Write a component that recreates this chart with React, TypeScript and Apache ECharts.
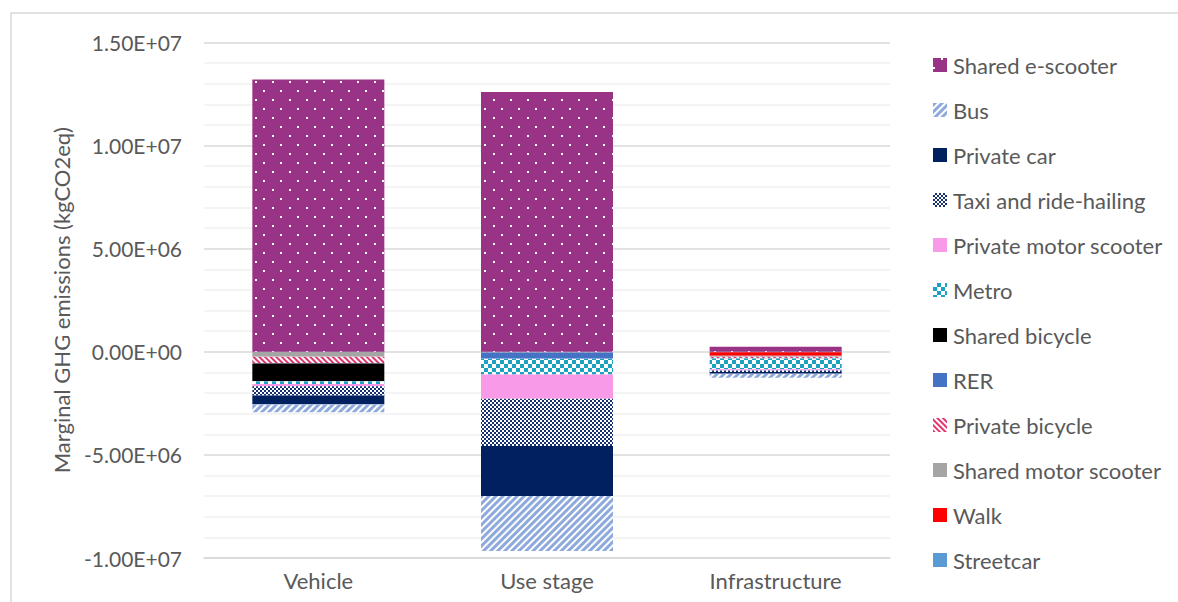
import React, { useEffect, useRef } from "react";
import * as echarts from "echarts";

const categories = ["Vehicle", "Use stage", "Infrastructure"];

// Series in stacking order (first = closest to zero)
const seriesNames = [
  "Streetcar",
  "Walk",
  "Shared motor scooter",
  "Private bicycle",
  "RER",
  "Shared bicycle",
  "Metro",
  "Private motor scooter",
  "Taxi and ride-hailing",
  "Private car",
  "Bus",
  "Shared e-scooter",
];

const streetcar = [-0.01e6, -0.01e6, -0.02e6];
const walk = [0, 0, -0.17e6];
const sharedMotorScooter = [-0.23e6, -0.01e6, -0.05e6];
const privateBicycle = [-0.31e6, -0.02e6, -0.06e6];
const rer = [-0.02e6, -0.3e6, -0.02e6];
const sharedBicycle = [-0.86e6, 0, -0.01e6];
const metro = [-0.13e6, -0.76e6, -0.52e6];
const privateMotorScooter = [-0.11e6, -1.18e6, -0.06e6];
const taxi = [-0.45e6, -2.29e6, -0.07e6];
const privateCar = [-0.44e6, -2.42e6, -0.08e6];
const bus = [-0.37e6, -2.67e6, -0.2e6];
const sharedEScooter = [13.2e6, 12.6e6, 0.24e6];

const seriesData = [
  streetcar,
  walk,
  sharedMotorScooter,
  privateBicycle,
  rer,
  sharedBicycle,
  metro,
  privateMotorScooter,
  taxi,
  privateCar,
  bus,
  sharedEScooter,
];

const yTicks = { min: -1e7, max: 1.5e7, interval: 5e6 };

const styles: Record<string, any> = {
  Streetcar: { color: "#5b9bd5" },
  Walk: { color: "#ff0000" },
  "Shared motor scooter": { color: "#a5a5a5" },
  "Private bicycle": {
    color: "#ffffff",
    decal: {
      color: "#e0356f",
      dashArrayX: [1, 0],
      dashArrayY: [2, 2],
      rotation: Math.PI / 4,
    },
  },
  RER: { color: "#4472c4" },
  "Shared bicycle": { color: "#000000" },
  Metro: {
    color: "#ffffff",
    decal: {
      color: "#1ea0c0",
      dashArrayX: [
        [4, 4],
        [0, 4, 4, 0],
      ],
      dashArrayY: [4, 0],
    },
  },
  "Private motor scooter": { color: "#f99ae9" },
  "Taxi and ride-hailing": {
    color: "#ffffff",
    decal: {
      color: "#14306e",
      dashArrayX: [
        [2, 2],
        [0, 2, 2, 0],
      ],
      dashArrayY: [2, 0],
    },
  },
  "Private car": { color: "#002060" },
  Bus: {
    color: "#ffffff",
    decal: {
      color: "#8eaadc",
      dashArrayX: [1, 0],
      dashArrayY: [3, 2],
      rotation: -Math.PI / 4,
    },
  },
  "Shared e-scooter": {
    color: "#993385",
    decal: {
      color: "#ffffff",
      dashArrayX: [
        [2, 15],
        [0, 8, 2, 7],
      ],
      dashArrayY: [2, 7],
    },
  },
};

function sci(v: number): string {
  if (v === 0) return "0.00E+00";
  const s = v < 0 ? "-" : "";
  const a = Math.abs(v);
  let e = Math.floor(Math.log10(a) + 1e-9);
  let m = a / Math.pow(10, e);
  if (Math.round(m * 100) / 100 >= 10) {
    m /= 10;
    e += 1;
  }
  return s + m.toFixed(2) + "E" + (e < 0 ? "-" : "+") + String(Math.abs(e)).padStart(2, "0");
}

const FONT = "Lato";
const TXT = "#595959";

export default function App() {
  const ref = useRef<HTMLDivElement>(null);
  useEffect(() => {
    if (!ref.current) return;
    const chart = echarts.init(ref.current, null, { renderer: "svg" });
    chart.setOption({
      animation: false,
      backgroundColor: "#ffffff",
      textStyle: { fontFamily: FONT },
      graphic: [
        {
          type: "rect",
          shape: { x: 11, y: 13, width: 1300, height: 700 },
          style: { fill: "none", stroke: "#d9d9d9", lineWidth: 1.5 },
          silent: true,
        },
      ],
      grid: { left: 204, right: 288, top: 42.5, bottom: 44, containLabel: false },
      legend: {
        orient: "vertical",
        left: 933,
        top: 54,
        padding: 0,
        itemWidth: 14,
        itemHeight: 14,
        itemGap: 23,
        icon: "rect",
        data: [...seriesNames].reverse(),
        textStyle: { color: TXT, fontSize: 22, fontFamily: FONT, lineHeight: 22, padding: [0, 0, 0, 1] },
      },
      xAxis: {
        type: "category",
        data: categories,
        axisLine: { show: true, onZero: false, lineStyle: { color: "#d9d9d9", width: 1.5 } },
        axisTick: { show: false },
        axisLabel: { color: TXT, fontSize: 22, fontFamily: FONT, margin: 11 },
      },
      yAxis: {
        type: "value",
        min: yTicks.min,
        max: yTicks.max,
        interval: yTicks.interval,
        name: "Marginal GHG emissions (kgCO2eq)",
        nameLocation: "middle",
        nameGap: 132,
        nameTextStyle: { color: TXT, fontSize: 22, fontFamily: FONT },
        axisLine: { show: false },
        axisTick: { show: false },
        axisLabel: { color: TXT, fontSize: 21, fontFamily: FONT, margin: 22, formatter: (v: number) => sci(v) },
        splitLine: { show: true, lineStyle: { color: "#d9d9d9", width: 1.5 } },
        minorTick: { show: false, splitNumber: 5 },
        minorSplitLine: { show: true, lineStyle: { color: "#f0f0f0", width: 1.5 } },
      },
      series: seriesNames.map((name, i) => ({
        name,
        type: "bar",
        stack: "total",
        barWidth: 132,
        data: seriesData[i],
        itemStyle: { ...styles[name] },
        emphasis: { disabled: true },
      })),
    });
    return () => chart.dispose();
  }, []);
  return (
    <div
      ref={ref}
      style={{ position: "fixed", left: 0, top: 0, width: 1178, height: 602, background: "#fff" }}
    />
  );
}
